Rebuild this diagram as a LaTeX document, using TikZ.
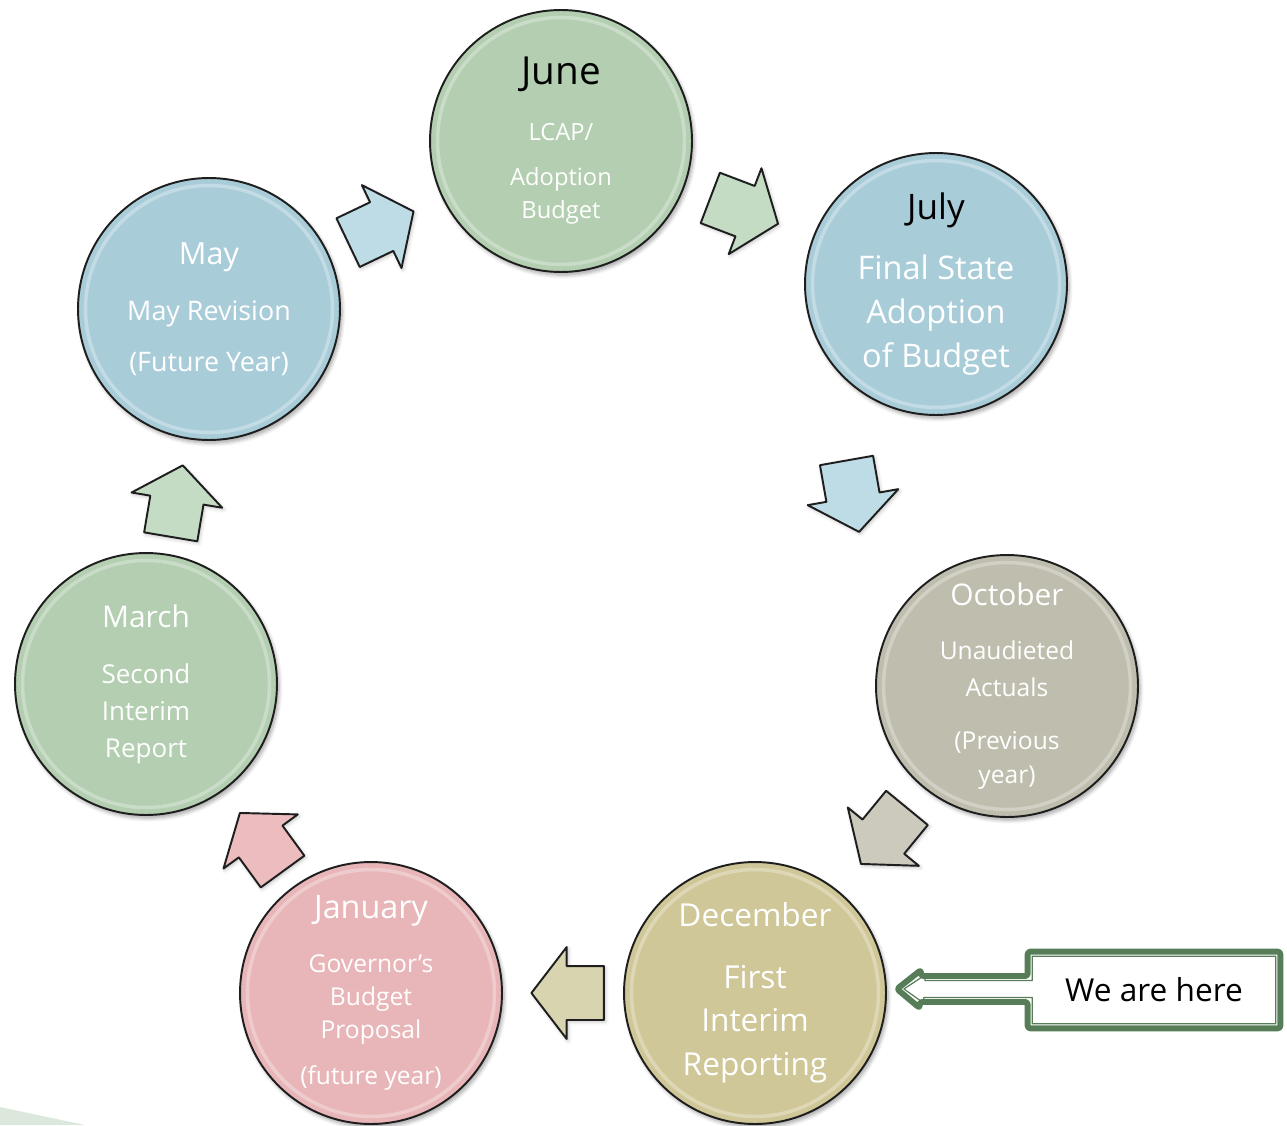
\documentclass[tikz,border=0pt]{standalone}
\usepackage{fontspec}
\setmainfont{Open Sans}
\usepackage{xcolor}
\definecolor{cgreen}{HTML}{B3CEB0}
\definecolor{cblue}{HTML}{A9CCD9}
\definecolor{cgray}{HTML}{BFBDAD}
\definecolor{ckhaki}{HTML}{CFC797}
\definecolor{cpink}{HTML}{E8B6B8}
\definecolor{agreen}{HTML}{C3DCC3}
\definecolor{ablue}{HTML}{BDDCE5}
\definecolor{agray}{HTML}{CBCABD}
\definecolor{akhaki}{HTML}{D9D4B0}
\definecolor{apink}{HTML}{EDBCBF}
\definecolor{heregreen}{HTML}{567D57}
\definecolor{edgeblack}{HTML}{1E1E1E}
\definecolor{paleleaf}{HTML}{DDE8DD}
\usepackage{tikz}
\usetikzlibrary{shapes.arrows, calc, shadows.blur}
\tikzset{
  month/.style ={circle, draw=edgeblack, line width=1.1pt, minimum size=5.24cm, inner sep=0pt,
                 text=white, align=center,
                 blur shadow={shadow xshift=1.2pt, shadow yshift=-1.8pt, shadow blur steps=6, shadow opacity=35},
                 path picture={\draw[white, opacity=.3, line width=2pt]
                   (path picture bounding box.center) circle[radius=2.47cm];}},
  barrow/.style={single arrow, draw=edgeblack, line width=1.1pt, minimum height=1.45cm,
                 inner xsep=0pt, inner ysep=0.52cm,
                 single arrow head extend=0.38cm, single arrow tip angle=105,
                 line join=round,
                 blur shadow={shadow xshift=0.8pt, shadow yshift=-1pt, shadow blur steps=4, shadow opacity=25}},
  onlink/.style={sloped, midway, allow upside down, xshift=-0.3cm},
  herebox/.style={font=\fontsize{18}{20}\selectfont, minimum width=5.04cm, minimum height=1.52cm, inner sep=0pt},
  callout/.style ={draw=heregreen, line width=3.4pt, line join=round, rounded corners=1.5pt},
  calloutin/.style={draw=heregreen, line width=0.7pt, line join=round},
}
\newcommand{\ttl}[3][white]{{\color{#1}\fontsize{#2}{#2}\selectfont #3}}

\begin{document}
\begin{tikzpicture}[x=0.02cm, y=-0.02cm]
  \useasboundingbox (0,0) rectangle (1287,1125);
  \fill[paleleaf] (0,1107) -- (85,1125) -- (0,1125) -- cycle;

  % the seven months
  \node[month, fill=cgreen, font=\fontsize{13.5}{19}\selectfont] (june) at (561,141)
    {\ttl[black]{22}{June}\\[12.8pt] LCAP/\\[6.5pt] Adoption\\ Budget};
  \node[month, fill=cblue, font=\fontsize{18.5}{25}\selectfont] (july) at (936,284)
    {\ttl[black]{20}{July}\\[9pt] Final State\\ Adoption\\ of Budget};
  \node[month, fill=cgray, font=\fontsize{14}{19.5}\selectfont] (october) at (1007,686)
    {\ttl{17}{October}\\[11.5pt] Unaudieted\\[1.5pt] Actuals\\[10.5pt] (Previous\\ year)};
  \node[month, fill=ckhaki, font=\fontsize{18}{25}\selectfont] (december) at (755,993)
    {\ttl{18}{December}\\[10pt] First\\ Interim\\ Reporting};
  \node[month, fill=cpink, font=\fontsize{14}{18.7}\selectfont] (january) at (371,993)
    {\ttl{18.4}{January}\\[12pt] Governor’s\\ Budget\\ Proposal\\[7.3pt] (future year)};
  \node[month, fill=cgreen, font=\fontsize{14.8}{21}\selectfont] (march) at (146,684)
    {\ttl{17}{March}\\[11pt] Second\\ Interim\\ Report};
  \node[month, fill=cblue, font=\fontsize{15.3}{20}\selectfont] (may) at (209,309)
    {\ttl{17.4}{May}\\[12pt] May Revision\\[9pt] (Future Year)};

  % block arrows between months
  \path (may) -- (june) node[barrow, onlink, fill=ablue] (a1) {};
  \path (june) -- (july) node[barrow, onlink, fill=agreen] (a2) {};
  \node[barrow, fill=ablue, rotate=-80] (a3) at (851,486) {};
  \path (october) -- (december) node[barrow, onlink, fill=agray] (a4) {};
  \path (december) -- (january) node[barrow, onlink, fill=akhaki] (a5) {};
  \path (january) -- (march) node[barrow, onlink, fill=apink] (a6) {};
  \path (march) -- (may) node[barrow, onlink, fill=agreen] (a7) {};

  % we are here
  \node[herebox] (here) at (1154,990) {We are here};
  \coordinate (tip) at ($(december.east)+(10,-4)$);
  \draw[callout] (tip) -- ++(24,-19) -- ++(0,6) -- ($(here.west)+(0,-14)$)
    -- (here.north west) -- (here.north east) -- (here.south east) -- (here.south west)
    -- ($(here.west)+(0,12)$) -- ++(-108,0) -- ++(0,6) -- cycle;
  \draw[calloutin] ($(tip)+(7,0)$) -- ++(21,-14) -- ++(0,5.5) -- ($(here.west)+(4.5,-9.5)$)
    -- ($(here.north west)+(4.5,4.5)$) -- ($(here.north east)+(-4.5,4.5)$)
    -- ($(here.south east)+(-4.5,-4.5)$) -- ($(here.south west)+(4.5,-4.5)$)
    -- ($(here.west)+(4.5,7.5)$) -- ++(-108.5,0) -- ++(0,5.5) -- cycle;
\end{tikzpicture}
\end{document}
